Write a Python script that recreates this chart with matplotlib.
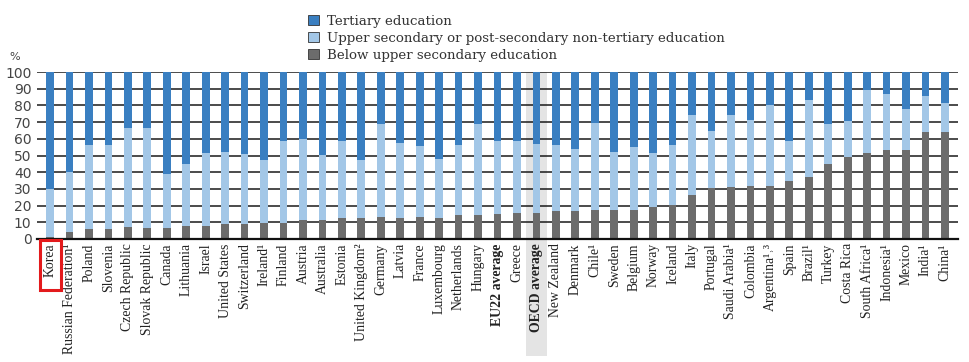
import matplotlib
matplotlib.use("Agg")
import matplotlib.pyplot as plt
import matplotlib.transforms as mtransforms
from matplotlib.patches import Rectangle, Patch
import numpy as np

countries = ["Korea", "Russian Federation\u00b9", "Poland", "Slovenia", "Czech Republic",
             "Slovak Republic", "Canada", "Lithuania", "Israel", "United States",
             "Switzerland", "Ireland\u00b9", "Finland", "Austria", "Australia", "Estonia",
             "United Kingdom\u00b2", "Germany", "Latvia", "France", "Luxembourg",
             "Netherlands", "Hungary", "EU22 average", "Greece", "OECD average",
             "New Zealand", "Denmark", "Chile\u00b9", "Sweden", "Belgium", "Norway",
             "Iceland", "Italy", "Portugal", "Saudi Arabia\u00b9", "Colombia",
             "Argentina\u00b9\u02d2\u00b3", "Spain", "Brazil\u00b9", "Turkey", "Costa Rica",
             "South Africa\u00b9", "Indonesia\u00b9", "Mexico", "India\u00b9", "China\u00b9"]

below = [1.4, 4.4, 6, 6, 7, 6.6, 6.4, 7.8, 7.8, 8.8,
         8.8, 9.6, 9.6, 11.2, 11.6, 12.4, 12.4, 13.1, 12.7, 13,
         12.5, 14.1, 14.5, 14.7, 15.7, 15.7, 16.7, 16.7, 17.3, 17.3,
         17.3, 19.3, 20.3, 26.3, 30.7, 31.3, 31.7, 31.8, 34.8, 36.9,
         45, 49.2, 51.2, 53.2, 53.4, 64.1, 64.1]

upper_cum = [30, 40.2, 56.4, 56.5, 66.7, 66.3, 38.8, 44.8, 51.6, 52,
             50.8, 47.6, 58.4, 60, 50.4, 58.4, 47.6, 68.7, 57.6, 55.8,
             48, 56.4, 68.7, 58.4, 58.4, 56.8, 56.2, 53.8, 69.5, 52.2,
             55.2, 51.2, 56.2, 74.1, 64.5, 74.1, 71.1, 80.4, 58.4, 83,
             69.1, 70.7, 89.5, 87, 78.1, 85.6, 81.6]

upper = [c - b for c, b in zip(upper_cum, below)]
tertiary = [100 - c for c in upper_cum]

legend_labels = ["Tertiary education",
                 "Upper secondary or post-secondary non-tertiary education",
                 "Below upper secondary education"]
yticks = [0, 10, 20, 30, 40, 50, 60, 70, 80, 90, 100]

c_ter = "#3A7FC1"
c_up = "#A3C7E7"
c_below = "#6C6C6C"

fig = plt.figure(figsize=(9.69, 3.62), dpi=100)
ax = fig.add_axes([37/969, 1 - 239/362, (958-37)/969, (239-72)/362])

x = np.arange(len(countries))
w = 0.40
ax.bar(x, below, w, color=c_below, zorder=3)
ax.bar(x, upper, w, bottom=below, color=c_up, zorder=3)
ax.bar(x, tertiary, w, bottom=upper_cum, color=c_ter, zorder=3)

ax.set_xlim(-0.67, len(countries) - 1 + 0.67)
ax.set_ylim(0, 100)
ax.set_yticks(yticks)
ax.yaxis.grid(True, color="#1a1a1a", linewidth=1.1, zorder=1)
ax.set_axisbelow(True)
for s in ["top", "right", "left"]:
    ax.spines[s].set_visible(False)
ax.spines["bottom"].set_linewidth(1.6)
ax.spines["bottom"].set_color("#111111")
ax.spines["bottom"].set_zorder(4)
ax.tick_params(axis="y", length=0, pad=4, labelsize=10, labelcolor="#444444")
ax.tick_params(axis="x", length=0, pad=3)
ax.set_xticks(x)
ax.set_xticklabels(countries, rotation=90, fontsize=9.9, family="Liberation Serif", color="#222222")
for lbl in ax.get_xticklabels():
    if "average" in lbl.get_text():
        lbl.set_fontweight("bold")

# OECD average highlight band
trans = mtransforms.blended_transform_factory(ax.transData, ax.transAxes)
oi = countries.index("OECD average")
ax.add_patch(Rectangle((oi - 0.52, -0.70), 1.04, 1.70, transform=trans,
                       facecolor="#e4e4e4", edgecolor="none", zorder=0, clip_on=False))

# Korea red box
ki = countries.index("Korea")
ax.add_patch(Rectangle((ki - 0.50, -0.305), 1.05, 0.30, transform=trans,
                       facecolor="none", edgecolor="#e31a1c", linewidth=2.2,
                       zorder=5, clip_on=False))

fig.text(15/969, 1 - 57/362, "%", fontsize=8, color="#444444", ha="center", va="center")

handles = [Patch(facecolor=c_ter, edgecolor="#333333", linewidth=0.6),
           Patch(facecolor=c_up, edgecolor="#333333", linewidth=0.6),
           Patch(facecolor=c_below, edgecolor="#333333", linewidth=0.6)]
fig.legend(handles, legend_labels, loc="upper left", bbox_to_anchor=(308/969, 1 - 15/362),
           frameon=False, prop={"family": "DejaVu Serif", "size": 9.6},
           handlelength=0.8, handleheight=0.8, handletextpad=0.6,
           labelspacing=0.3, borderaxespad=0, borderpad=0, labelcolor="#333333")

fig.savefig("out.png", dpi=100)
